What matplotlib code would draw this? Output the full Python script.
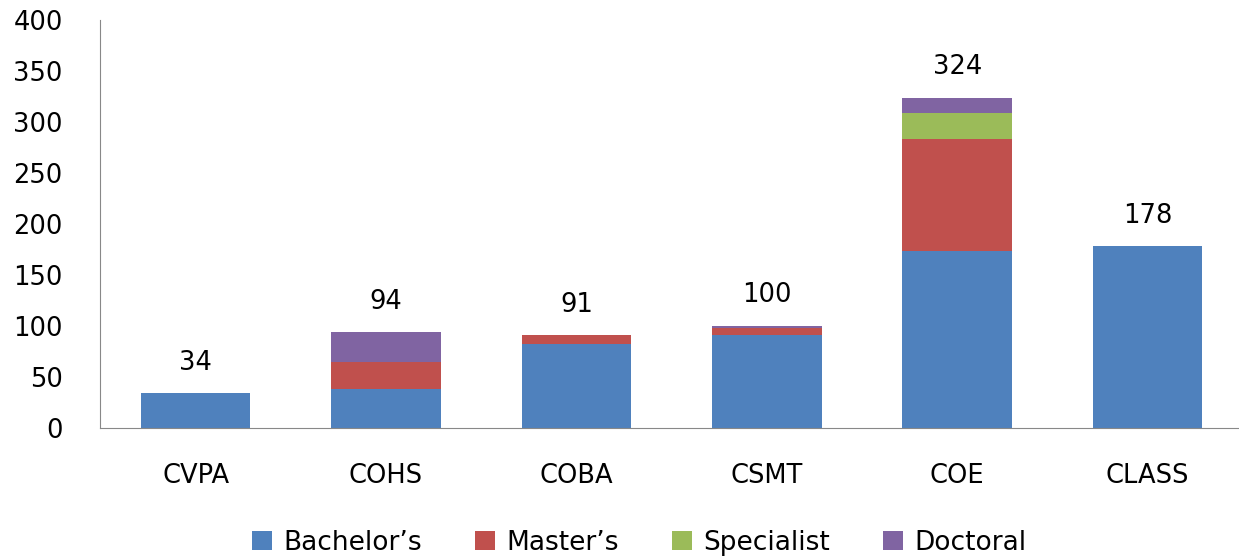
import matplotlib
matplotlib.use("Agg")
import matplotlib.pyplot as plt
import numpy as np

colleges = ["CVPA", "COHS", "COBA", "CSMT", "COE", "CLASS"]
bachelors = [34, 38, 82, 91, 174, 178]
masters = [0, 27, 9, 7, 109, 0]
specialist = [0, 0, 0, 0, 26, 0]
doctoral = [0, 29, 0, 2, 15, 0]
totals = [34, 94, 91, 100, 324, 178]

series = [
    ("Bachelor\u2019s", bachelors, "#4F81BD"),
    ("Master\u2019s", masters, "#C0504D"),
    ("Specialist", specialist, "#9BBB59"),
    ("Doctoral", doctoral, "#8064A2"),
]

plt.rcParams["font.family"] = "DejaVu Sans"

fig = plt.figure(figsize=(12.39, 5.58), dpi=100)
ax = fig.add_axes([0.081, 0.233, 0.919, 0.731])

x = np.arange(len(colleges))
bottom = np.zeros(len(colleges))
for name, vals, color in series:
    ax.bar(x, vals, width=0.575, bottom=bottom, color=color, label=name)
    bottom += np.array(vals)

for xi, t in zip(x, totals):
    ax.annotate(str(t), (xi, t), xytext=(0, 22), textcoords="offset points",
                ha="center", va="center", fontsize=18.5)

ax.set_xlim(-0.5, 5.48)
ax.set_ylim(0, 400)
ax.set_yticks(range(0, 401, 50))
ax.set_xticks(x)
ax.set_xticklabels(colleges)
ax.tick_params(axis="both", length=0, labelsize=18.5)
ax.tick_params(axis="x", pad=25)
ax.tick_params(axis="y", pad=27)

for s in ["top", "right"]:
    ax.spines[s].set_visible(False)
ax.spines["left"].set_color("#888888")
ax.spines["bottom"].set_color("#888888")

fig.legend(loc="center", bbox_to_anchor=(0.516, 0.027), ncol=4, frameon=False,
           fontsize=19, handlelength=0.75, handleheight=0.75, handletextpad=0.45,
           columnspacing=2.0)

fig.savefig("out.png", dpi=100)
